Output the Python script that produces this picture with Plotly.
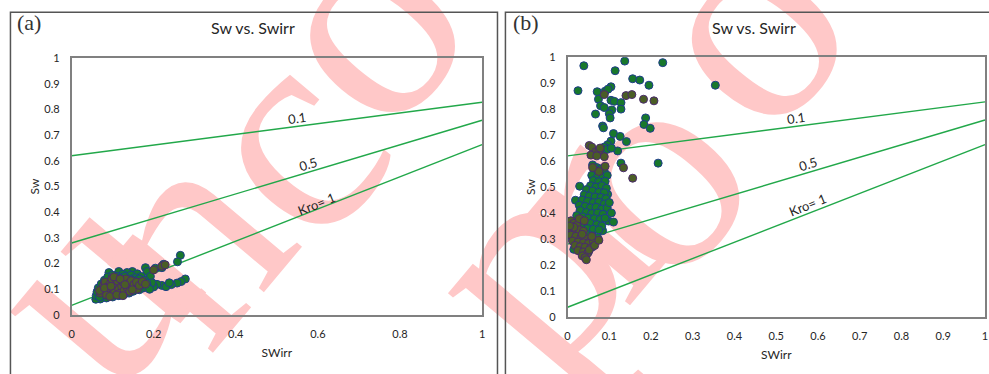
import plotly.graph_objects as go

W, H = 989, 374

# ---------------- data ----------------
# reference lines: Sw at SWirr = 0 and SWirr = 1
line_names = ["0.1", "0.5", "Kro= 1"]
line_x = [0, 1]
line_y0 = [0.62, 0.28, 0.037]
line_y1 = [0.828, 0.758, 0.663]

# panel (a)
a_green_x = [0.265,0.258,0.224,0.220,0.204,0.180,0.184,0.148,0.115,0.091,0.277,0.267,0.257,0.243,0.220,0.208,0.200,0.188,0.192,0.160,0.135,0.125,0.170,0.196,0.185,0.175,0.165,0.150,0.140,0.128,0.115,0.100,0.085,0.070,0.059,0.060,0.062,0.065,0.072,0.080,0.088,0.100,0.110,0.120,0.130,0.145,0.155,0.165,0.178,0.183,0.172,0.160,0.150,0.140,0.105,0.095,0.082,0.075,0.068,0.120,0.135,0.155,0.190,0.145,0.230,0.238]
a_green_y = [0.232,0.207,0.197,0.184,0.182,0.184,0.169,0.169,0.169,0.165,0.140,0.130,0.124,0.118,0.115,0.119,0.109,0.140,0.150,0.160,0.165,0.158,0.150,0.125,0.112,0.105,0.098,0.092,0.085,0.080,0.075,0.070,0.066,0.062,0.061,0.075,0.090,0.105,0.120,0.135,0.148,0.155,0.150,0.145,0.150,0.155,0.145,0.140,0.135,0.125,0.120,0.128,0.135,0.140,0.080,0.085,0.095,0.080,0.070,0.090,0.100,0.110,0.100,0.120,0.110,0.125]
a_olive_x = [0.070,0.075,0.078,0.082,0.088,0.090,0.095,0.098,0.100,0.105,0.108,0.112,0.115,0.118,0.122,0.125,0.128,0.132,0.135,0.138,0.142,0.145,0.150,0.152,0.158,0.160,0.165,0.085,0.093,0.110,0.125,0.068,0.080,0.103,0.118,0.220,0.228,0.200,0.172,0.180,0.096,0.130,0.148]
a_olive_y = [0.085,0.100,0.115,0.128,0.110,0.095,0.125,0.140,0.105,0.090,0.118,0.132,0.100,0.085,0.112,0.128,0.095,0.140,0.108,0.122,0.092,0.133,0.105,0.118,0.128,0.100,0.115,0.078,0.072,0.078,0.075,0.095,0.105,0.148,0.140,0.190,0.195,0.175,0.130,0.120,0.112,0.118,0.098]

# panel (b)
b_green_x = [0.039,0.137,0.228,0.114,0.025,0.156,0.173,0.195,0.354,0.071,0.090,0.104,0.097,0.074,0.104,0.112,0.128,0.128,0.079,0.088,0.106,0.067,0.100,0.102,0.187,0.183,0.198,0.084,0.086,0.110,0.126,0.141,0.104,0.096,0.120,0.088,0.217,0.128,0.096,0.098,0.084,0.029,0.019,0.095,0.105,0.080,
             0.060,0.070,0.080,0.065,0.078,0.088,0.058,0.072,0.085,0.095,0.062,0.075,0.090,0.055,0.068,0.082,0.093,0.045,0.060,0.075,0.088,0.040,0.052,0.066,0.080,0.092,0.035,0.048,0.062,0.075,0.088,0.028,0.042,0.055,0.068,0.082,0.095,0.030,0.045,0.058,0.072,0.085,0.022,0.036,0.050,0.064,0.078,0.090,0.025,0.040,0.055,0.070,0.082,0.018,0.032,0.048,0.062,0.075,0.015,0.030,0.045,0.060,0.072,0.012,0.020,0.015,0.030,0.050,0.060,0.010,0.100,0.105,0.110]
b_green_y = [0.967,0.985,0.979,0.948,0.871,0.917,0.912,0.892,0.892,0.867,0.869,0.886,0.877,0.838,0.834,0.830,0.825,0.800,0.813,0.806,0.797,0.781,0.782,0.766,0.766,0.741,0.726,0.735,0.728,0.706,0.695,0.675,0.677,0.663,0.639,0.654,0.592,0.592,0.472,0.369,0.332,0.503,0.449,0.645,0.650,0.630,
             0.585,0.575,0.570,0.560,0.555,0.560,0.545,0.540,0.538,0.545,0.525,0.520,0.522,0.505,0.500,0.505,0.495,0.490,0.485,0.480,0.478,0.470,0.465,0.462,0.460,0.455,0.450,0.445,0.440,0.442,0.435,0.430,0.425,0.420,0.422,0.415,0.420,0.410,0.402,0.398,0.400,0.395,0.390,0.385,0.380,0.378,0.375,0.380,0.368,0.362,0.360,0.355,0.350,0.348,0.345,0.340,0.338,0.335,0.325,0.320,0.318,0.312,0.305,0.300,0.280,0.260,0.255,0.250,0.270,0.340,0.440,0.400,0.365]
b_olive_x = [0.088,0.140,0.154,0.182,0.207,0.052,0.058,0.068,0.075,0.056,0.088,0.070,0.078,0.134,0.156,0.090,0.075,0.060,
             0.008,0.015,0.022,0.010,0.018,0.028,0.038,0.008,0.020,0.032,0.045,0.055,0.012,0.025,0.038,0.050,0.062,0.018,0.030,0.042,0.055,0.025,0.038,0.048,0.035,0.042,0.045,0.052,0.065,0.075,0.028,0.040,0.015,0.005,0.035,0.058]
b_olive_y = [0.856,0.852,0.856,0.838,0.832,0.660,0.654,0.636,0.640,0.623,0.617,0.620,0.650,0.574,0.534,0.580,0.560,0.575,
             0.370,0.360,0.352,0.335,0.328,0.335,0.330,0.315,0.310,0.305,0.300,0.295,0.292,0.288,0.285,0.282,0.290,0.275,0.270,0.268,0.265,0.255,0.250,0.245,0.235,0.228,0.220,0.258,0.275,0.295,0.378,0.370,0.345,0.350,0.318,0.310]

a_xticks = [0, 0.2, 0.4, 0.6, 0.8, 1]
b_xticks = [0, 0.1, 0.2, 0.3, 0.4, 0.5, 0.6, 0.7, 0.8, 0.9, 1]
yticks = [0, 0.1, 0.2, 0.3, 0.4, 0.5, 0.6, 0.7, 0.8, 0.9, 1]
tick_text = lambda v: [("%g" % t) for t in v]

# watermark letters (pixel centres of the text boxes)
wm_letters = ["u", "n", "c", "o", "p", "r", "o", "o"]
wm_px = [56, 152, 256, 332, 495, 556, 618, 716]
wm_py = [262, 215, 115, -8, 245, 185, 150, -5]

# ---------------- figure ----------------
def px(x):
    return x / W

def py(y):
    return 1 - y / H

fig = go.Figure()

GREEN_FILL = "#18782c"
GREEN_EDGE = "#1f3d8c"
OLIVE_FILL = "#4a5d26"
OLIVE_EDGE = "#4a2a6e"
LINE_COL = "#22a84a"

panels = [
    ("x", "y", a_green_x, a_green_y, a_olive_x, a_olive_y),
    ("x2", "y2", b_green_x, b_green_y, b_olive_x, b_olive_y),
]
for xa, ya, gx, gy, ox, oy in panels:
    for y0, y1 in zip(line_y0, line_y1):
        fig.add_trace(go.Scatter(x=line_x, y=[y0, y1], mode="lines", xaxis=xa, yaxis=ya,
                                 line=dict(color=LINE_COL, width=1.4), showlegend=False, hoverinfo="skip"))
    fig.add_trace(go.Scatter(x=gx, y=gy, mode="markers", xaxis=xa, yaxis=ya, showlegend=False,
                             marker=dict(size=8, color=GREEN_FILL, line=dict(color=GREEN_EDGE, width=1))))
    fig.add_trace(go.Scatter(x=ox, y=oy, mode="markers", xaxis=xa, yaxis=ya, showlegend=False,
                             marker=dict(size=8, color=OLIVE_FILL, line=dict(color=OLIVE_EDGE, width=1))))

TICKFONT = dict(family="Lato, Calibri, sans-serif", size=11, color="#262626")
TITLEFONT = dict(family="Lato, Calibri, sans-serif", size=12, color="#262626")

axis_common = dict(range=[0, 1], showgrid=False, zeroline=False, showline=True, mirror=True,
                   linecolor="#808080", linewidth=1.5, ticks="", tickfont=TICKFONT,
                   ticklabelstandoff=8, fixedrange=True)

fig.update_layout(
    width=W, height=H, margin=dict(l=0, r=0, t=0, b=0),
    paper_bgcolor="white", plot_bgcolor="rgba(0,0,0,0)",
    xaxis=dict(domain=[px(69), px(482)], anchor="y", tickvals=a_xticks, ticktext=tick_text(a_xticks),
               title=dict(text="SWirr", font=TITLEFONT, standoff=10), **axis_common),
    yaxis=dict(domain=[py(319), py(53)], anchor="x", tickvals=yticks, ticktext=tick_text(yticks),
               title=dict(text="Sw", font=TITLEFONT, standoff=2), **axis_common),
    xaxis2=dict(domain=[px(568), px(988)], anchor="y2", tickvals=b_xticks, ticktext=tick_text(b_xticks),
                title=dict(text="SWirr", font=TITLEFONT, standoff=10), **axis_common),
    yaxis2=dict(domain=[py(321), py(52)], anchor="x2", tickvals=yticks, ticktext=tick_text(yticks),
                title=dict(text="Sw", font=TITLEFONT, standoff=2), **axis_common),
)

# panel frames
fig.add_shape(type="rect", xref="paper", yref="paper", x0=px(7.5), x1=px(497.5), y0=-0.2, y1=py(5.5),
              line=dict(color="#555555", width=1.5), fillcolor="rgba(0,0,0,0)")
fig.add_shape(type="rect", xref="paper", yref="paper", x0=px(505.5), x1=1.2, y0=-0.2, y1=py(5.5),
              line=dict(color="#555555", width=1.5), fillcolor="rgba(0,0,0,0)")

# watermark (below the traces)
for ch, cx, cy in zip(wm_letters, wm_px, wm_py):
    fig.add_shape(type="rect", xref="paper", yref="paper", layer="below",
                  x0=px(cx) - 0.001, x1=px(cx) + 0.001, y0=py(cy) - 0.001, y1=py(cy) + 0.001,
                  line=dict(width=0), fillcolor="rgba(0,0,0,0)",
                  label=dict(text=ch, textangle=-50, textposition="middle center",
                             font=dict(family="Liberation Serif, Times New Roman, serif", size=300,
                                       color="rgb(255,200,200)")))

# titles and panel letters
for cx, letter, lx in [(252, "(a)", 12), (756, "(b)", 511)]:
    fig.add_annotation(xref="paper", yref="paper", x=px(cx), y=py(21), xanchor="center", yanchor="middle",
                       text="Sw vs. Swirr", showarrow=False,
                       font=dict(family="Lato, Calibri, sans-serif", size=16, color="#262626"))
    fig.add_annotation(xref="paper", yref="paper", x=px(lx), y=py(16), xanchor="left", yanchor="middle",
                       text=letter, showarrow=False,
                       font=dict(family="Liberation Serif, Times New Roman, serif", size=22, color="#333333"))

# line labels
lab_a = [(0.55, 0.765, -8), (0.577, 0.588, -17), (0.596, 0.433, -22)]
lab_b = [(0.548, 0.767, -8), (0.576, 0.588, -17), (0.574, 0.432, -22)]
for (xa, ya), labs in [(("x", "y"), lab_a), (("x2", "y2"), lab_b)]:
    for name, (lx, ly, ang) in zip(line_names, labs):
        fig.add_annotation(xref=xa, yref=ya, x=lx, y=ly, text=name, textangle=ang, showarrow=False,
                           font=dict(family="Lato, Calibri, sans-serif", size=13, color="#262626"))

fig.write_html("out.html")
